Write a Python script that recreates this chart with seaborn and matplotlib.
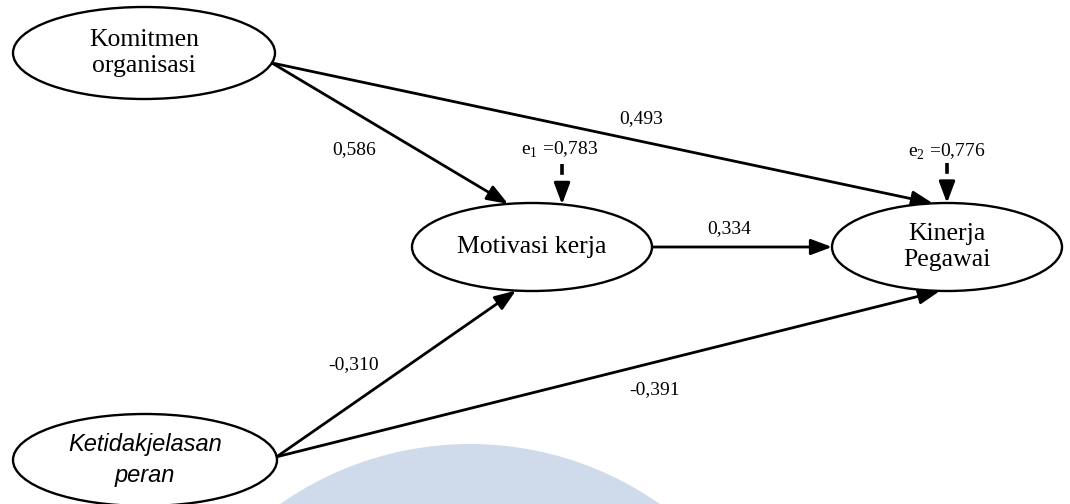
import numpy as np
import matplotlib
matplotlib.use('Agg')
import matplotlib.pyplot as plt
from matplotlib.patches import Ellipse, Circle
import seaborn as sns

# path model: constructs and standardized coefficients
constructs = ["Komitmen\norganisasi", "Motivasi kerja", "Kinerja\nPegawai", "Ketidakjelasan\nperan"]
path_from = ["Komitmen\norganisasi", "Komitmen\norganisasi", "Motivasi kerja",
             "Ketidakjelasan\nperan", "Ketidakjelasan\nperan"]
path_to = ["Motivasi kerja", "Kinerja\nPegawai", "Kinerja\nPegawai",
           "Motivasi kerja", "Kinerja\nPegawai"]
coefficients = [0.586, 0.493, 0.334, -0.310, -0.391]
error_nodes = ["Motivasi kerja", "Kinerja\nPegawai"]
error_names = ["1", "2"]
error_values = [0.783, 0.776]

# layout (pixel-like coords, y down)
centers = {"Komitmen\norganisasi": (144, 53), "Motivasi kerja": (532, 247),
           "Kinerja\nPegawai": (947, 247), "Ketidakjelasan\nperan": (145, 460)}
sizes = {"Komitmen\norganisasi": (262, 92), "Motivasi kerja": (240, 88),
         "Kinerja\nPegawai": (230, 88), "Ketidakjelasan\nperan": (264, 92)}
italic = {"Ketidakjelasan\nperan"}
# anchor angles (deg) on ellipses for each path: (start, end)
anchors = [(12.5, -101.5), (12.5, -97), (0, 180), (-4, 97.7), (-4, 93.5)]
label_pos = [(354, 150), (641, 119), (729, 229), (354, 365), (655, 390)]
err_angle = [-75.5, -90]
err_label_pos = [(560, 150), (947, 152)]

sns.set_theme(style="white")
plt.rcParams['font.family'] = ['Liberation Serif', 'DejaVu Serif']
plt.rcParams['text.color'] = 'black'
plt.rcParams['mathtext.fontset'] = 'custom'
plt.rcParams['mathtext.rm'] = 'Liberation Serif'

fig = plt.figure(figsize=(10.7, 5.04), dpi=100)
ax = fig.add_axes([0, 0, 1, 1])
ax.set_xlim(0, 1070)
ax.set_ylim(504, 0)
ax.axis('off')

# faint watermark at the bottom
ax.add_patch(Circle((470, 774), 330, color='#cfdaea', zorder=0, lw=0))


def edge(name, ang):
    cx, cy = centers[name]
    w, h = sizes[name]
    t = np.radians(ang)
    return (cx + w / 2 * np.cos(t), cy + h / 2 * np.sin(t))


for name in constructs:
    w, h = sizes[name]
    ax.add_patch(Ellipse(centers[name], w, h, fc='white', ec='black', lw=1.7, zorder=2))
    if name in italic:
        ax.text(*centers[name], name, ha='center', va='center', fontsize=17,
                style='italic', family=['Liberation Sans', 'DejaVu Sans'],
                linespacing=1.45, zorder=3)
    else:
        ax.text(*centers[name], name, ha='center', va='center', fontsize=18.5,
                linespacing=1.2, zorder=3)

arrow_style = '-|>,head_length=0.8,head_width=0.3'
for src, dst, coef, (a0, a1), lp in zip(path_from, path_to, coefficients, anchors, label_pos):
    p0 = edge(src, a0)
    p1 = edge(dst, a1)
    ax.annotate('', xy=p1, xytext=p0, zorder=1,
                arrowprops=dict(arrowstyle=arrow_style, color='black', lw=2.0,
                                shrinkA=0, shrinkB=0, mutation_scale=16))
    ax.text(*lp, f"{coef:.3f}".replace('.', ','), ha='center', va='center', fontsize=14)

# error terms: dashed stem + solid head
for node, en, ev, ang, lp in zip(error_nodes, error_names, error_values, err_angle, err_label_pos):
    p1 = edge(node, ang)
    p0 = (p1[0], p1[1] - 40)
    mid = (p1[0], p1[1] - 15)
    ax.plot([p0[0], mid[0]], [p0[1], mid[1]], color='black', lw=2.6,
            linestyle=(0, (3.0, 2.0)), solid_capstyle='butt', zorder=1)
    ax.annotate('', xy=p1, xytext=mid, zorder=1,
                arrowprops=dict(arrowstyle=arrow_style, color='black', lw=2.2,
                                shrinkA=0, shrinkB=0, mutation_scale=16))
    ax.text(*lp, "e$_{" + en + "}$ =" + f"{ev:.3f}".replace('.', ','),
            ha='center', va='center', fontsize=14)

fig.savefig("out.png", dpi=100)
plt.close(fig)
